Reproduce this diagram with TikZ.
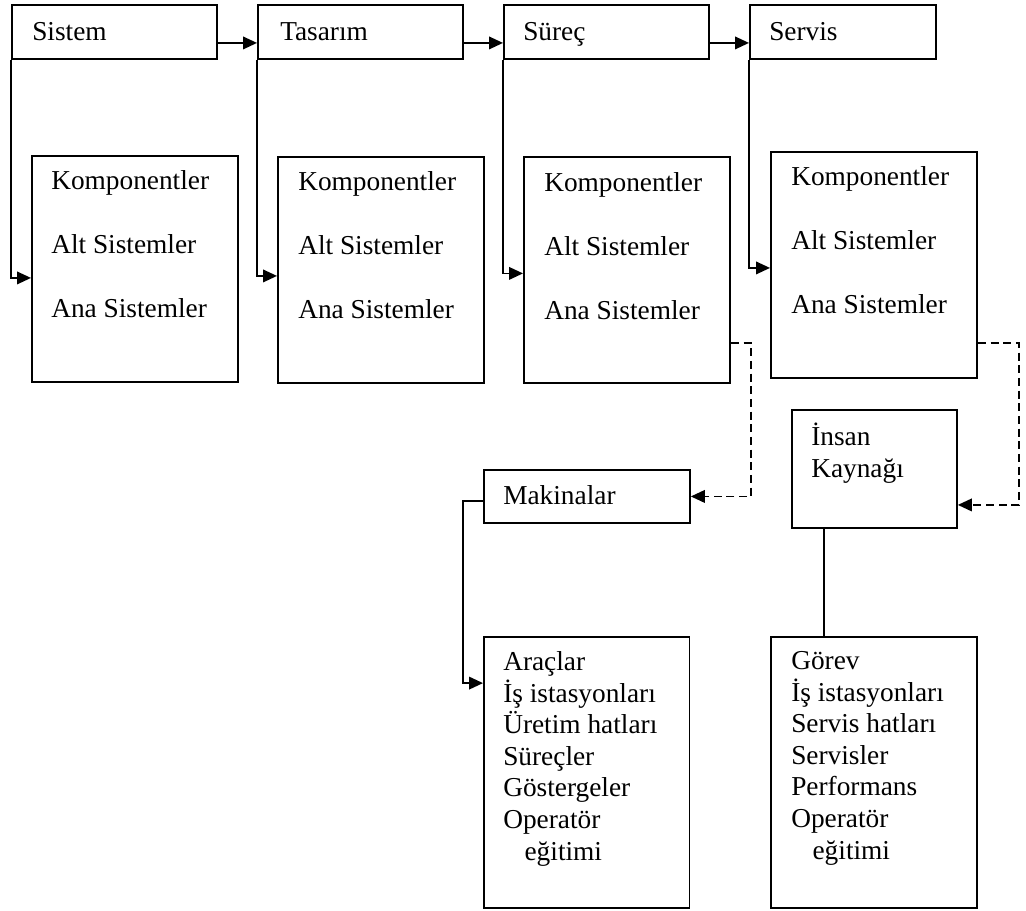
\documentclass[tikz,border=0pt]{standalone}
\usepackage{fontspec}
\setmainfont{Liberation Serif}
\usetikzlibrary{arrows.meta}

\begin{document}
\begin{tikzpicture}[x=0.75pt,y=-0.75pt,
    kutu/.style={draw, line width=1.4pt, inner sep=0pt, anchor=north west},
    yazi/.style={anchor=base west, inner sep=0.75pt, align=left, font=\fontsize{20.5}{23.7}\selectfont},
    ok/.style={line width=1.2pt, -{Triangle[length=10.5pt,width=9.5pt]}},
    kesik/.style={ok, dash pattern=on 6pt off 3.5pt}]
    \useasboundingbox (0,0) rectangle (1026,911);
    % ust sira
    \node[kutu, minimum width=153.75pt, minimum height=40.5pt] (sistem) at (11,4) {};
    \node[kutu, minimum width=153.75pt, minimum height=40.5pt] (tasarim) at (257,4) {};
    \node[kutu, minimum width=153.75pt, minimum height=40.5pt] (surec) at (503,4) {};
    \node[kutu, minimum width=139.5pt, minimum height=40.5pt] (servis) at (749,4) {};
    \node[yazi] (sistemyazi) at (31,40) {Sistem};
    \node[yazi] (tasarimyazi) at (279,40) {Tasarım};
    \node[yazi] (surecyazi) at (522,40) {Süreç};
    \node[yazi] (servisyazi) at (768,40) {Servis};
    % alt kutular (yazilar son satirin tabanina gore)
    \node[kutu, minimum width=154.5pt, minimum height=169.5pt] (k1) at (31,155) {};
    \node[kutu, minimum width=154.5pt, minimum height=169.5pt] (k2) at (277,156) {};
    \node[kutu, minimum width=154.5pt, minimum height=169.5pt] (k3) at (523,156) {};
    \node[kutu, minimum width=154.5pt, minimum height=169.5pt] (k4) at (770,151) {};
    \node[yazi] (k1yazi) at (50,317) {Komponentler\\[24pt]Alt Sistemler\\[24pt]Ana Sistemler};
    \node[yazi] (k2yazi) at (297,318) {Komponentler\\[24pt]Alt Sistemler\\[24pt]Ana Sistemler};
    \node[yazi] (k3yazi) at (543,319) {Komponentler\\[24pt]Alt Sistemler\\[24pt]Ana Sistemler};
    \node[yazi] (k4yazi) at (790,313) {Komponentler\\[24pt]Alt Sistemler\\[24pt]Ana Sistemler};
    % makinalar ve insan kaynagi
    \node[kutu, minimum width=154.5pt, minimum height=39.75pt] (makinalar) at (483,469) {};
    \node[yazi] (makinalaryazi) at (502,504) {Makinalar};
    \node[kutu, minimum width=123.75pt, minimum height=88.5pt] (insan) at (791,409) {};
    \node[yazi] (insanyazi) at (810,477) {İnsan\\Kaynağı};
    \node[kutu, minimum width=154.2pt, minimum height=203.25pt] (b1) at (483,636) {};
    \node[kutu, minimum width=154.5pt, minimum height=203.25pt] (b2) at (770,636) {};
    \node[yazi] (b1yazi) at (502,860) {Araçlar\\İş istasyonları\\Üretim hatları\\Süreçler\\Göstergeler\\Operatör\\\hspace*{16pt}eğitimi};
    \node[yazi] (b2yazi) at (790,859) {Görev\\İş istasyonları\\Servis hatları\\Servisler\\Performans\\Operatör\\\hspace*{16pt}eğitimi};
    % oklar
    \draw[ok] ([yshift=-8.25pt]sistem.east) -- ([yshift=-8.25pt]tasarim.west);
    \draw[ok] ([yshift=-8.25pt]tasarim.east) -- ([yshift=-8.25pt]surec.west);
    \draw[ok] ([yshift=-8.25pt]surec.east) -- ([yshift=-8.25pt]servis.west);
    \draw[ok] (sistem.south west) |- ([yshift=-6.75pt]k1.west);
    \draw[ok] (tasarim.south west) |- ([yshift=-4.5pt]k2.west);
    \draw[ok] (surec.south west) |- ([yshift=-2.6pt]k3.west);
    \draw[ok] (servis.south west) |- ([yshift=-2.25pt]k4.west);
    \draw[kesik] ([yshift=-54.75pt]k3.east) -- ++(20,0) |- (makinalar.east);
    \draw[kesik] ([yshift=-58.5pt]k4.east) -- ++(41,0) |- ([yshift=-27pt]insan.east);
    \draw[ok] ([yshift=-3.4pt]makinalar.west) -- ++(-20,0) |- ([yshift=67pt]b1.west);
    \draw[line width=1.2pt] ([xshift=-38pt]insan.south) -- ([xshift=-38pt]insan.south |- b2.north);
\end{tikzpicture}
\end{document}
